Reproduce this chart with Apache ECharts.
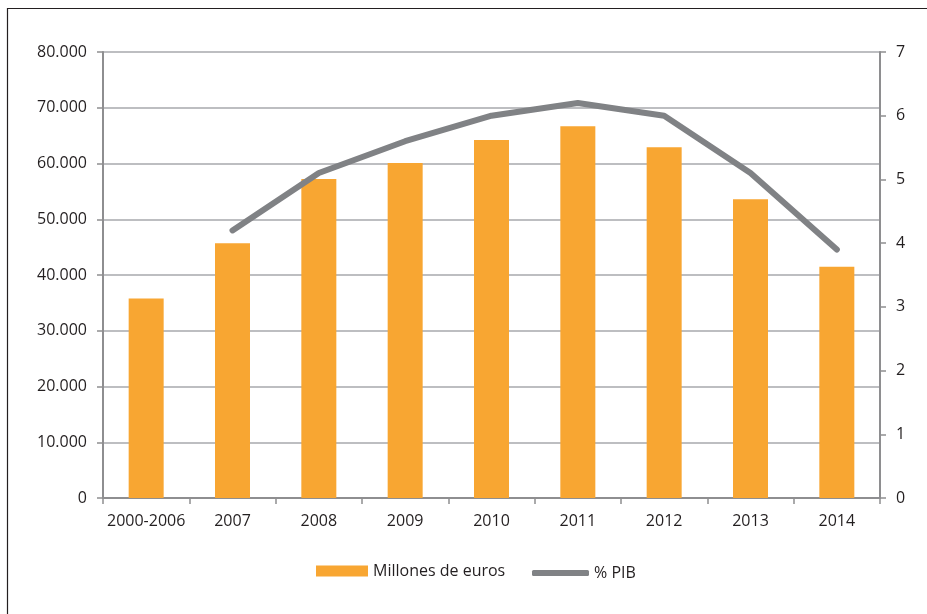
<!DOCTYPE html>
<html>
<head>
<meta charset="utf-8">
<script src="https://cdn.jsdelivr.net/npm/echarts@6/dist/echarts.min.js"></script>
<style>
  html, body { margin: 0; padding: 0; background: #fff; }
  #chart { width: 927px; height: 614px; }
</style>
</head>
<body>
<div id="chart"></div>
<script>
// Categories and series values
const categories = ['2000-2006', '2007', '2008', '2009', '2010', '2011', '2012', '2013', '2014'];
const millonesEuros = [35800, 45700, 57200, 60100, 64200, 66700, 62900, 53600, 41500];
const pctPIB = [null, 4.2, 5.1, 5.6, 6.0, 6.2, 6.0, 5.1, 3.9];

const FONT = '"Open Sans", "Noto Sans", sans-serif';
const TEXT = '#231f20';
const AXIS = '#8e8e90';
const GRID = '#a7a9ac';

function thousands(v) {
  return String(v).replace(/\B(?=(\d{3})+(?!\d))/g, '.');
}

const chart = echarts.init(document.getElementById('chart'), null, { renderer: 'canvas' });
chart.setOption({
  backgroundColor: '#fff',
  animation: false,
  graphic: [{
    type: 'rect',
    shape: { x: 7.5, y: 8.5, width: 940, height: 620 },
    style: { fill: 'none', stroke: '#231f20', lineWidth: 1.2 },
    silent: true
  }],
  grid: { left: 103, right: 47, top: 52, bottom: 116 },
  legend: [{
    data: [{ name: 'Millones de euros', icon: 'rect' }],
    left: 311, top: 558,
    itemWidth: 52, itemHeight: 11, itemGap: 5,
    textStyle: { fontFamily: FONT, fontSize: 16, color: TEXT },
    selectedMode: false
  }, {
    data: [{ name: '% PIB', icon: 'roundRect' }],
    left: 527, top: 560,
    itemWidth: 57, itemHeight: 6, itemGap: 3,
    textStyle: { fontFamily: FONT, fontSize: 16, color: TEXT },
    selectedMode: false
  }],
  xAxis: {
    type: 'category',
    data: categories,
    axisLine: { lineStyle: { color: AXIS, width: 2 } },
    axisTick: { show: true, length: 6, alignWithLabel: false, lineStyle: { color: AXIS, width: 1.5 } },
    axisLabel: { fontFamily: FONT, fontSize: 16, color: TEXT, margin: 15, interval: 0 }
  },
  yAxis: [{
    type: 'value',
    min: 0, max: 80000, interval: 10000,
    axisLine: { show: true, lineStyle: { color: AXIS, width: 2 } },
    axisTick: { show: true, inside: false, length: 6, lineStyle: { color: AXIS, width: 1.5 } },
    splitLine: { show: true, lineStyle: { color: GRID, width: 1.5 } },
    axisLabel: { fontFamily: FONT, fontSize: 16, color: TEXT, margin: 16, formatter: thousands }
  }, {
    type: 'value',
    min: 0, max: 7, interval: 1,
    position: 'right',
    axisLine: { show: true, lineStyle: { color: AXIS, width: 2 } },
    axisTick: { show: true, length: 6, lineStyle: { color: AXIS, width: 1.5 } },
    splitLine: { show: false },
    axisLabel: { fontFamily: FONT, fontSize: 16, color: TEXT, margin: 16 }
  }],
  series: [{
    name: 'Millones de euros',
    type: 'bar',
    data: millonesEuros,
    barWidth: 35,
    itemStyle: { color: '#f8a632' },
    z: 2
  }, {
    name: '% PIB',
    type: 'line',
    yAxisIndex: 1,
    data: pctPIB,
    showSymbol: false,
    symbol: 'none',
    connectNulls: false,
    itemStyle: { color: '#808285' },
    lineStyle: { color: '#808285', width: 6, cap: 'round', join: 'round' },
    z: 3
  }]
});
</script>
</body>
</html>
